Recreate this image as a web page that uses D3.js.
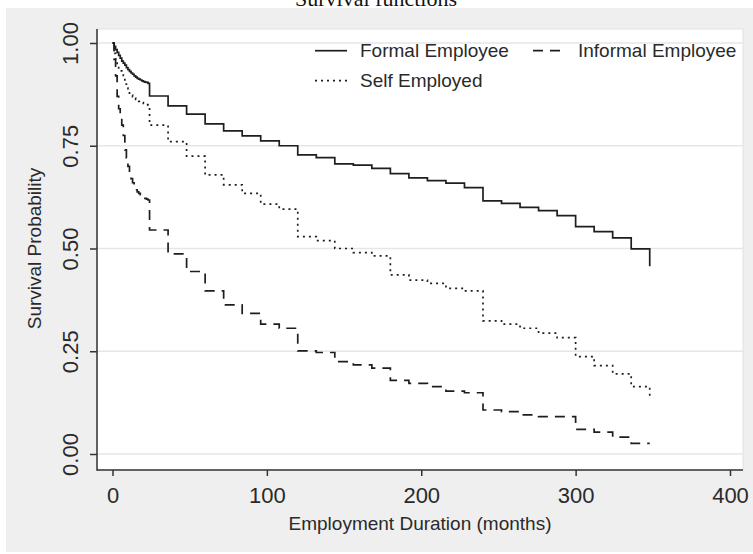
<!DOCTYPE html>
<html>
<head>
<meta charset="utf-8">
<script src="https://cdn.jsdelivr.net/npm/d3@7"></script>
<style>
  html, body { margin: 0; padding: 0; background: #ffffff; }
  svg { display: block; }
  text { font-family: "Liberation Sans", Arial, sans-serif; fill: #2a2a2a; }
</style>
</head>
<body>
<script>
// Kaplan-Meier survival estimates by employment type
const months = [0, 1, 2, 3, 4, 5, 6, 7, 8, 9, 10, 11, 12, 13, 14, 15, 16, 17, 18, 19, 20, 21, 22, 23, 24,
  36, 48, 60, 72, 84, 96, 108, 120, 132, 144, 156, 168, 180, 192, 204, 216, 228, 240,
  252, 264, 276, 288, 300, 312, 324, 336, 348];

const formalEmployee = [1.000, 0.992, 0.984, 0.977, 0.970, 0.963, 0.956, 0.951, 0.946, 0.940, 0.935,
  0.931, 0.927, 0.924, 0.920, 0.917, 0.914, 0.912, 0.910, 0.908, 0.906, 0.905, 0.904, 0.902, 0.871,
  0.847, 0.827, 0.803, 0.786, 0.774, 0.762, 0.750, 0.728, 0.721, 0.706, 0.703, 0.695, 0.682, 0.672,
  0.665, 0.659, 0.648, 0.616, 0.610, 0.600, 0.592, 0.580, 0.553, 0.541, 0.526, 0.499, 0.457];

const informalEmployee = [1.000, 0.960, 0.920, 0.870, 0.840, 0.820, 0.800, 0.775, 0.740, 0.720, 0.700,
  0.685, 0.670, 0.660, 0.650, 0.643, 0.638, 0.634, 0.631, 0.628, 0.625, 0.622, 0.620, 0.618, 0.545,
  0.487, 0.444, 0.397, 0.363, 0.342, 0.316, 0.306, 0.251, 0.247, 0.225, 0.217, 0.209, 0.179, 0.172,
  0.164, 0.153, 0.149, 0.107, 0.103, 0.095, 0.091, 0.091, 0.060, 0.053, 0.041, 0.026, 0.026];

const selfEmployed = [1.000, 0.975, 0.955, 0.940, 0.935, 0.932, 0.928, 0.915, 0.900, 0.890, 0.883,
  0.878, 0.873, 0.869, 0.866, 0.863, 0.860, 0.858, 0.857, 0.855, 0.853, 0.851, 0.850, 0.849, 0.800,
  0.760, 0.725, 0.679, 0.655, 0.634, 0.608, 0.596, 0.529, 0.519, 0.500, 0.490, 0.482, 0.436, 0.423,
  0.415, 0.403, 0.397, 0.324, 0.316, 0.306, 0.294, 0.283, 0.237, 0.215, 0.195, 0.164, 0.135];

const seriesNames = ["Formal Employee", "Informal Employee", "Self Employed"];
const xTicks = [0, 100, 200, 300, 400];
const yTicks = [0.00, 0.25, 0.50, 0.75, 1.00];

const W = 753, H = 554;
const plot = { left: 97, top: 29, right: 743, bottom: 470 };
const ink = "#1e1e1e";

const svg = d3.select("body").append("svg").attr("width", W).attr("height", H);

// Page and graph region
svg.append("rect").attr("width", W).attr("height", H).attr("fill", "#ffffff");
svg.append("rect").attr("x", 6).attr("y", 8).attr("width", W - 6).attr("height", 544).attr("fill", "#efefef");

svg.append("text")
  .attr("x", 376).attr("y", 6)
  .attr("text-anchor", "middle")
  .style("font-family", "'Liberation Serif', 'Times New Roman', serif")
  .style("font-size", "22px")
  .style("fill", "#111")
  .text("Survival functions");

// Plot region
svg.append("rect")
  .attr("x", plot.left).attr("y", plot.top)
  .attr("width", plot.right - plot.left).attr("height", plot.bottom - plot.top)
  .attr("fill", "#ffffff").attr("stroke", "#e2e2e2").attr("stroke-width", 1);

const x = d3.scaleLinear().domain([0, 400]).range([112.5, 730]);
const y = d3.scaleLinear().domain([0, 1]).range([454, 43]);

// Horizontal grid
svg.append("g").selectAll("line").data(yTicks).join("line")
  .attr("x1", plot.left).attr("x2", plot.right)
  .attr("y1", d => y(d)).attr("y2", d => y(d))
  .attr("stroke", "#e6e6e6").attr("stroke-width", 1.5);

// Axes
const yAxis = svg.append("g").attr("transform", `translate(${plot.left},0)`)
  .call(d3.axisLeft(y).tickValues(yTicks).tickFormat(d3.format(".2f")).tickSize(7).tickPadding(0));
yAxis.select(".domain").remove();
yAxis.selectAll(".tick line").attr("stroke", "#333").attr("stroke-width", 1.5);
yAxis.selectAll(".tick text")
  .attr("x", null).attr("dy", null)
  .attr("text-anchor", "middle")
  .attr("transform", "translate(-19,0) rotate(-90)")
  .style("font-size", "22px").style("fill", "#2a2a2a");

const xAxis = svg.append("g").attr("transform", `translate(0,${plot.bottom})`)
  .call(d3.axisBottom(x).tickValues(xTicks).tickFormat(d3.format("d")).tickSize(6).tickPadding(0));
xAxis.select(".domain").remove();
xAxis.selectAll(".tick line").attr("stroke", "#333").attr("stroke-width", 1.5);
xAxis.selectAll(".tick text")
  .attr("y", 33).attr("dy", null)
  .style("font-size", "22px").style("fill", "#2a2a2a");

svg.append("line").attr("x1", plot.left).attr("x2", plot.left)
  .attr("y1", plot.top).attr("y2", plot.bottom + 0.75)
  .attr("stroke", "#333").attr("stroke-width", 1.5);
svg.append("line").attr("x1", plot.left).attr("x2", plot.right)
  .attr("y1", plot.bottom).attr("y2", plot.bottom)
  .attr("stroke", "#333").attr("stroke-width", 1.5);

// Axis titles
svg.append("text")
  .attr("transform", `translate(41,${(43 + 454) / 2}) rotate(-90)`)
  .attr("text-anchor", "middle")
  .style("font-size", "19px")
  .text("Survival Probability");

svg.append("text")
  .attr("x", (plot.left + plot.right) / 2).attr("y", 530)
  .attr("text-anchor", "middle")
  .style("font-size", "19px")
  .text("Employment Duration (months)");

// Survival step curves
const dashes = { "Formal Employee": null, "Informal Employee": "10,7", "Self Employed": "2,4" };
const values = { "Formal Employee": formalEmployee, "Informal Employee": informalEmployee, "Self Employed": selfEmployed };

const line = d3.line()
  .x(d => x(d[0]))
  .y(d => y(d[1]))
  .curve(d3.curveStepAfter);

svg.append("g").selectAll("path").data(seriesNames).join("path")
  .attr("d", name => line(months.map((m, i) => [m, values[name][i]])))
  .attr("fill", "none")
  .attr("stroke", ink)
  .attr("stroke-width", 1.7)
  .attr("stroke-dasharray", name => dashes[name]);

// Legend
const legendItems = [
  { name: "Formal Employee", lx: 315, tx: 360, row: 0 },
  { name: "Informal Employee", lx: 533, tx: 578, row: 0 },
  { name: "Self Employed", lx: 315, tx: 360, row: 1 }
];
const lg = svg.append("g");
legendItems.forEach(it => {
  const ly = 50.7 + it.row * 30;
  lg.append("line")
    .attr("x1", it.lx).attr("x2", it.lx + (it.name === "Informal Employee" ? 28 : 32))
    .attr("y1", ly).attr("y2", ly)
    .attr("stroke", ink).attr("stroke-width", 1.7)
    .attr("stroke-dasharray", dashes[it.name]);
  lg.append("text")
    .attr("x", it.tx).attr("y", 57 + it.row * 30)
    .style("font-size", "19px")
    .text(it.name);
});
</script>
</body>
</html>
